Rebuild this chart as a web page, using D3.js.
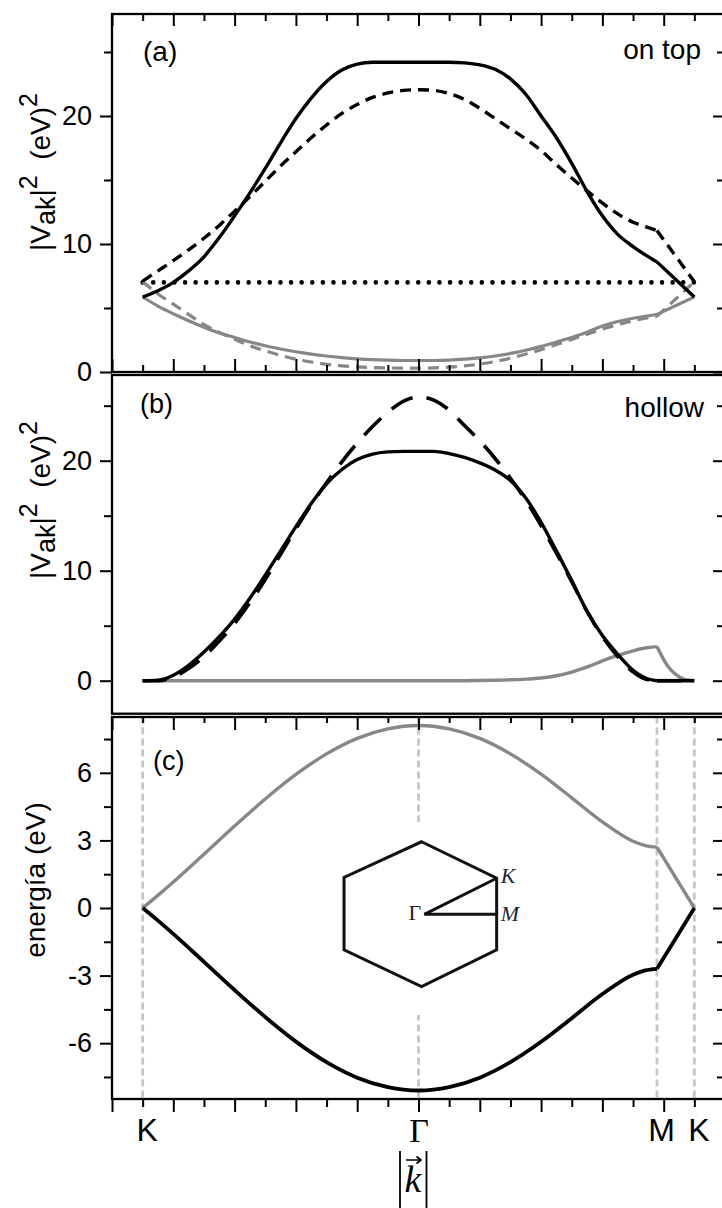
<!DOCTYPE html>
<html><head><meta charset="utf-8">
<script src="https://cdn.jsdelivr.net/npm/d3@7"></script>
<style>body{margin:0;background:#fff}svg{display:block}</style>
</head><body>
<svg id="chart" width="722" height="1208"></svg>
<script>
// ---------------- DATA ----------------
const kSym = [1, 10, 17.78, 19];          // K, Gamma, M, K positions along the path
const kSymLabels = ["K", "Γ", "M", "K"];
const kM = 17.78;

// panel (a) "on top"
const kA = [1,1.5,2,2.5,3,3.5,4,4.5,5,5.5,6,6.5,7,7.5,8,8.5,9,9.5,10,10.5,11,11.5,12,12.5,13,13.5,14,14.5,15,15.5,16,16.5,17,17.4,17.78,18.4,19];
const aBlackSolid  = [5.85,6.35,7.0,7.9,9.0,10.5,12.2,14.0,15.9,17.9,19.8,21.4,22.7,23.6,24.05,24.2,24.2,24.2,24.2,24.2,24.2,24.15,24.0,23.65,22.9,21.7,20.0,18.3,16.3,14.1,12.2,10.75,9.8,9.15,8.6,7.2,5.85];
const aBlackDashed = [7.1,7.9,8.7,9.55,10.45,11.45,12.55,13.7,14.9,16.1,17.2,18.3,19.3,20.2,20.9,21.45,21.8,22.0,22.05,22.0,21.75,21.3,20.6,19.8,19.0,18.2,17.3,16.2,15.15,14.15,13.2,12.35,11.7,11.35,11.05,9.02,7.05];
const aGraySolid   = [5.86,5.15,4.55,4.0,3.5,3.05,2.7,2.35,2.05,1.8,1.58,1.4,1.25,1.13,1.03,0.96,0.92,0.9,0.9,0.9,0.93,1.0,1.1,1.25,1.45,1.7,2.0,2.35,2.7,3.1,3.6,3.95,4.2,4.35,4.5,5.2,5.86];
const aGrayDashed  = [7.05,6.1,5.3,4.5,3.7,3.1,2.55,2.05,1.65,1.3,1.0,0.78,0.6,0.48,0.4,0.35,0.32,0.3,0.3,0.32,0.38,0.48,0.62,0.82,1.08,1.4,1.75,2.15,2.55,2.95,3.35,3.7,4.0,4.2,4.35,5.72,7.05];
const kDotted = [1, 19];
const aDotted = [7.0, 7.0];

// panel (b) "hollow"
const kB = [1,1.5,2,2.5,3,3.5,4,4.5,5,5.5,6,6.5,7,7.5,8,8.5,9,9.5,10,10.5,11,11.5,12,12.5,13,13.5,14,14.5,15,15.5,16,16.5,17,17.4,17.78,18.1,18.4,18.7,19];
const bBlackSolid  = [0,0.05,0.5,1.4,2.6,4.0,5.6,7.5,9.6,11.8,14.0,16.1,17.9,19.2,20.1,20.6,20.8,20.85,20.85,20.85,20.65,20.3,19.8,19.15,18.2,16.6,14.4,11.8,9.1,6.3,4.1,2.4,0.95,0.25,0,0,0,0,0];
const bBlackDashed = [0,0,0.35,1.1,2.2,3.6,5.2,7.1,9.2,11.5,13.8,16.0,18.0,19.9,21.6,23.1,24.4,25.4,25.8,25.5,24.6,23.2,21.8,20.2,18.4,16.4,14.1,11.6,9.0,6.3,4.0,2.2,0.8,0.15,0,0,0,0,0];
const bGray        = [0,0,0,0,0,0,0,0,0,0,0,0,0,0,0,0,0,0,0,0,0,0,0.02,0.04,0.08,0.14,0.25,0.45,0.78,1.25,1.8,2.3,2.72,2.97,3.1,1.45,0.55,0.1,0];

// panel (c) bands
const kC = [1,1.5,2,3,4,5,6,7,8,9,10,11,12,13,14,15,16,17,17.4,17.78,18.4,19];
const cUpper = [0,0.56,1.15,2.39,3.64,4.84,5.93,6.84,7.53,7.95,8.1,7.95,7.53,6.84,5.94,4.89,3.82,2.96,2.77,2.7,1.33,0];
const cLower = [0,-0.56,-1.15,-2.39,-3.64,-4.84,-5.93,-6.84,-7.53,-7.95,-8.1,-7.95,-7.53,-6.84,-5.94,-4.89,-3.82,-2.96,-2.77,-2.7,-1.33,0];

// inset Brillouin zone (in panel-c data units)
const hexVerts = [[10.10,2.94],[12.55,1.32],[12.55,-1.86],[10.10,-3.49],[7.57,-1.86],[7.57,1.36]];
const insetGamma = [10.19,-0.28], insetK = [12.55,1.32], insetM = [12.55,-0.28];
const insetBox = [[7.3,3.82],[13.6,-4.75]];

// ticks
const yTicksA = [0,10,20], yMinorA = [5,15,25];
const yTicksB = [0,10,20], yMinorB = [5,15,25];
const yTicksC = [-6,-3,0,3,6], yMinorC = [-7.5,-4.5,-1.5,1.5,4.5,7.5];
const xMajor = d3.range(0,21,2), xMinor = d3.range(1,20,2);

// ---------------- LAYOUT ----------------
const FONT = "'Liberation Sans', Arial, sans-serif";
const SERIF = "'Liberation Serif', 'Times New Roman', serif";
const svg = d3.select("#chart");
const x = d3.scaleLinear().domain([0,20]).range([112,725]);
const yA = d3.scaleLinear().domain([0,28]).range([372,13.6]);
const yB = d3.scaleLinear().domain([-3,28]).range([713.7,372.7]);
const yC = d3.scaleLinear().domain([-8.5,8.5]).range([1099.5,716.5]);
const frames = [
  {y: yA, top: 14, bot: 372},
  {y: yB, top: 375, bot: 713.7},
  {y: yC, top: 717, bot: 1099}
];
const BLACK = "#000", GRAY = "#878787", VGRAY = "#c6c6c6";

function series(ys, ks, vs, st){
  const pts = ks.map((k,i)=>[k, vs[i]]);
  const segs = st.noSplit ? [pts] : [pts.filter(p=>p[0] <= kM+1e-9), pts.filter(p=>p[0] >= kM-1e-9)];
  const line = d3.line().x(p=>x(p[0])).y(p=>ys(p[1])).curve(st.curve || d3.curveMonotoneX);
  segs.forEach(s=>{
    if (s.length < 2) return;
    svg.append("path").attr("d", line(s)).attr("fill","none")
      .attr("stroke", st.color).attr("stroke-width", st.w)
      .attr("stroke-dasharray", st.dash || null)
      .attr("stroke-linecap", st.cap || "butt")
      .attr("stroke-linejoin","round");
  });
}

// ---- panel (c) background: vertical dashed lines and inset ----
svg.append("g").selectAll("line").data(kSym).join("line")
  .attr("x1", d=>x(d)).attr("x2", d=>x(d))
  .attr("y1", yC(8.5)).attr("y2", yC(-8.5))
  .attr("stroke", VGRAY).attr("stroke-width", 2.8).attr("stroke-dasharray","7 4");

svg.append("rect")
  .attr("x", x(insetBox[0][0])).attr("y", yC(insetBox[0][1]))
  .attr("width", x(insetBox[1][0]) - x(insetBox[0][0]))
  .attr("height", yC(insetBox[1][1]) - yC(insetBox[0][1]))
  .attr("fill", "#fff");
svg.append("polygon")
  .attr("points", hexVerts.map(p=>[x(p[0]), yC(p[1])].join(",")).join(" "))
  .attr("fill","none").attr("stroke","#111").attr("stroke-width",3).attr("stroke-linejoin","miter");
[insetK, insetM].forEach(p=>{
  svg.append("line").attr("x1", x(insetGamma[0])).attr("y1", yC(insetGamma[1]))
    .attr("x2", x(p[0])).attr("y2", yC(p[1]))
    .attr("stroke","#111").attr("stroke-width",3);
});
svg.append("text").attr("x", x(insetGamma[0]) - 3).attr("y", yC(insetGamma[1]) + 6)
  .attr("text-anchor","end").attr("font-family", SERIF).attr("font-size", 22).attr("fill","#2a2218").text("Γ");
svg.append("text").attr("x", x(insetK[0]) + 4).attr("y", yC(insetK[1]) + 5)
  .attr("font-family", SERIF).attr("font-style","italic").attr("font-size", 22).attr("fill","#1c2438").text("K");
svg.append("text").attr("x", x(insetM[0]) + 4).attr("y", yC(insetM[1]) + 7)
  .attr("font-family", SERIF).attr("font-style","italic").attr("font-size", 22).attr("fill","#1c2438").text("M");

// ---- curves ----
series(yA, kDotted, aDotted, {color: BLACK, w: 4.6, dash: "0 10.6", cap: "round", curve: d3.curveLinear, noSplit: true});
series(yA, kA, aGrayDashed, {color: GRAY, w: 3.2, dash: "11 7"});
series(yA, kA, aGraySolid, {color: GRAY, w: 3.2});
series(yA, kA, aBlackDashed, {color: BLACK, w: 3.4, dash: "11 7"});
series(yA, kA, aBlackSolid, {color: BLACK, w: 3.4});

series(yB, kB, bGray, {color: GRAY, w: 3.4});
series(yB, kB, bBlackDashed, {color: BLACK, w: 3.6, dash: "24 14"});
series(yB, kB, bBlackSolid, {color: BLACK, w: 3.4});

series(yC, kC, cUpper, {color: GRAY, w: 3.4});
series(yC, kC, cLower, {color: BLACK, w: 3.8});

// ---- frames and ticks ----
function tickGroup(axis, tx, ty){
  const g = svg.append("g").attr("transform", `translate(${tx},${ty})`).call(axis);
  g.select(".domain").remove();
  g.selectAll(".tick line").attr("stroke", BLACK).attr("stroke-width", 2);
  g.attr("font-family", FONT).attr("font-size", 27);
  g.selectAll(".tick text").attr("fill", BLACK);
  return g;
}
const fmt = d => String(d);
const panelTicks = [
  {y: yA, maj: yTicksA, min: yMinorA},
  {y: yB, maj: yTicksB, min: yMinorB},
  {y: yC, maj: yTicksC, min: yMinorC}
];
panelTicks.forEach((p,i)=>{
  tickGroup(d3.axisLeft(p.y).tickValues(p.maj).tickSize(12).tickPadding(8).tickFormat(fmt), x(0), 0);
  tickGroup(d3.axisLeft(p.y).tickValues(p.min).tickSize(8).tickFormat(""), x(0), 0);
  tickGroup(d3.axisLeft(p.y).tickValues(p.maj).tickSize(12).tickFormat(""), x(20), 0);
  tickGroup(d3.axisLeft(p.y).tickValues(p.min).tickSize(8).tickFormat(""), x(20), 0);
});
// panel (a): top & bottom inward
tickGroup(d3.axisBottom(x).tickValues(xMajor).tickSize(12).tickFormat(""), 0, frames[0].top);
tickGroup(d3.axisBottom(x).tickValues(xMinor).tickSize(7).tickFormat(""), 0, frames[0].top);
tickGroup(d3.axisTop(x).tickValues(xMajor).tickSize(13).tickFormat(""), 0, frames[0].bot);
tickGroup(d3.axisTop(x).tickValues(xMinor).tickSize(7).tickFormat(""), 0, frames[0].bot);
// panel (c): top inward, bottom outward
tickGroup(d3.axisBottom(x).tickValues(xMajor).tickSize(13).tickFormat(""), 0, frames[2].top);
tickGroup(d3.axisBottom(x).tickValues(xMinor).tickSize(6).tickFormat(""), 0, frames[2].top);
tickGroup(d3.axisBottom(x).tickValues(xMajor).tickSize(13).tickFormat(""), 0, frames[2].bot);
tickGroup(d3.axisBottom(x).tickValues(xMinor).tickSize(8).tickFormat(""), 0, frames[2].bot);
// symmetry-point labels
const lab = tickGroup(d3.axisBottom(x).tickValues(kSym).tickSize(0).tickPadding(19).tickFormat((d,i)=>kSymLabels[i]), 0, frames[2].bot);
lab.attr("font-size", 32);
lab.selectAll(".tick text").attr("dx", (d,i)=> i===1 ? 0 : 4)
  .attr("font-family", (d,i)=> i===1 ? SERIF : FONT)
  .attr("font-size", (d,i)=> i===1 ? 34 : 32);

frames.forEach(f=>{
  svg.append("rect").attr("x", x(0)).attr("y", f.top).attr("width", x(20)-x(0)).attr("height", f.bot - f.top)
    .attr("fill","none").attr("stroke", BLACK).attr("stroke-width", 2.3);
});

// ---- texts ----
function txt(t, px, py, opt={}){
  return svg.append("text").attr("x", px).attr("y", py)
    .attr("font-family", opt.font || FONT).attr("font-size", opt.size || 27)
    .attr("text-anchor", opt.anchor || "start").attr("fill", BLACK).text(t);
}
txt("(a)", 143, 61, {size: 28});
txt("on top", 701, 58.5, {anchor: "end", size: 28});
txt("(b)", 140, 413);
txt("hollow", 704, 417, {anchor: "end", size: 28});
txt("(c)", 153, 770);

function vTitle(cx, cy){
  const t = svg.append("text").attr("transform", `translate(${cx},${cy}) rotate(-90)`)
    .attr("text-anchor","middle").attr("font-family", FONT).attr("font-size", 28).attr("fill", BLACK);
  t.append("tspan").text("|V");
  t.append("tspan").attr("dy", 5).attr("font-size", 27).text("ak");
  t.append("tspan").attr("dy", -5).text("|");
  t.append("tspan").attr("dy", -13).attr("font-size", 25).text("2");
  t.append("tspan").attr("dy", 13).text("\u00a0\u00a0(eV)");
  t.append("tspan").attr("dy", -13).attr("font-size", 25).text("2");
}
vTitle(50, 172);
vTitle(50, 500);
svg.append("text").attr("transform", "translate(45,880) rotate(-90)")
  .attr("text-anchor","middle").attr("font-family", FONT).attr("font-size", 28).attr("fill", BLACK)
  .text("energía (eV)");

// x-axis title |k| with vector arrow
svg.append("line").attr("x1",400).attr("x2",400).attr("y1",1151).attr("y2",1208).attr("stroke",BLACK).attr("stroke-width",1.8);
svg.append("line").attr("x1",426.5).attr("x2",426.5).attr("y1",1151).attr("y2",1208).attr("stroke",BLACK).attr("stroke-width",1.8);
svg.append("text").attr("x", 413).attr("y", 1192).attr("text-anchor","middle")
  .attr("font-family", SERIF).attr("font-style","italic").attr("font-size", 38).attr("fill", BLACK).text("k");
svg.append("path").attr("d", "M406,1160 L421,1160 M416.5,1156.5 L421,1160 L416.5,1163.5")
  .attr("fill","none").attr("stroke",BLACK).attr("stroke-width",1.6);
</script>
</body></html>
